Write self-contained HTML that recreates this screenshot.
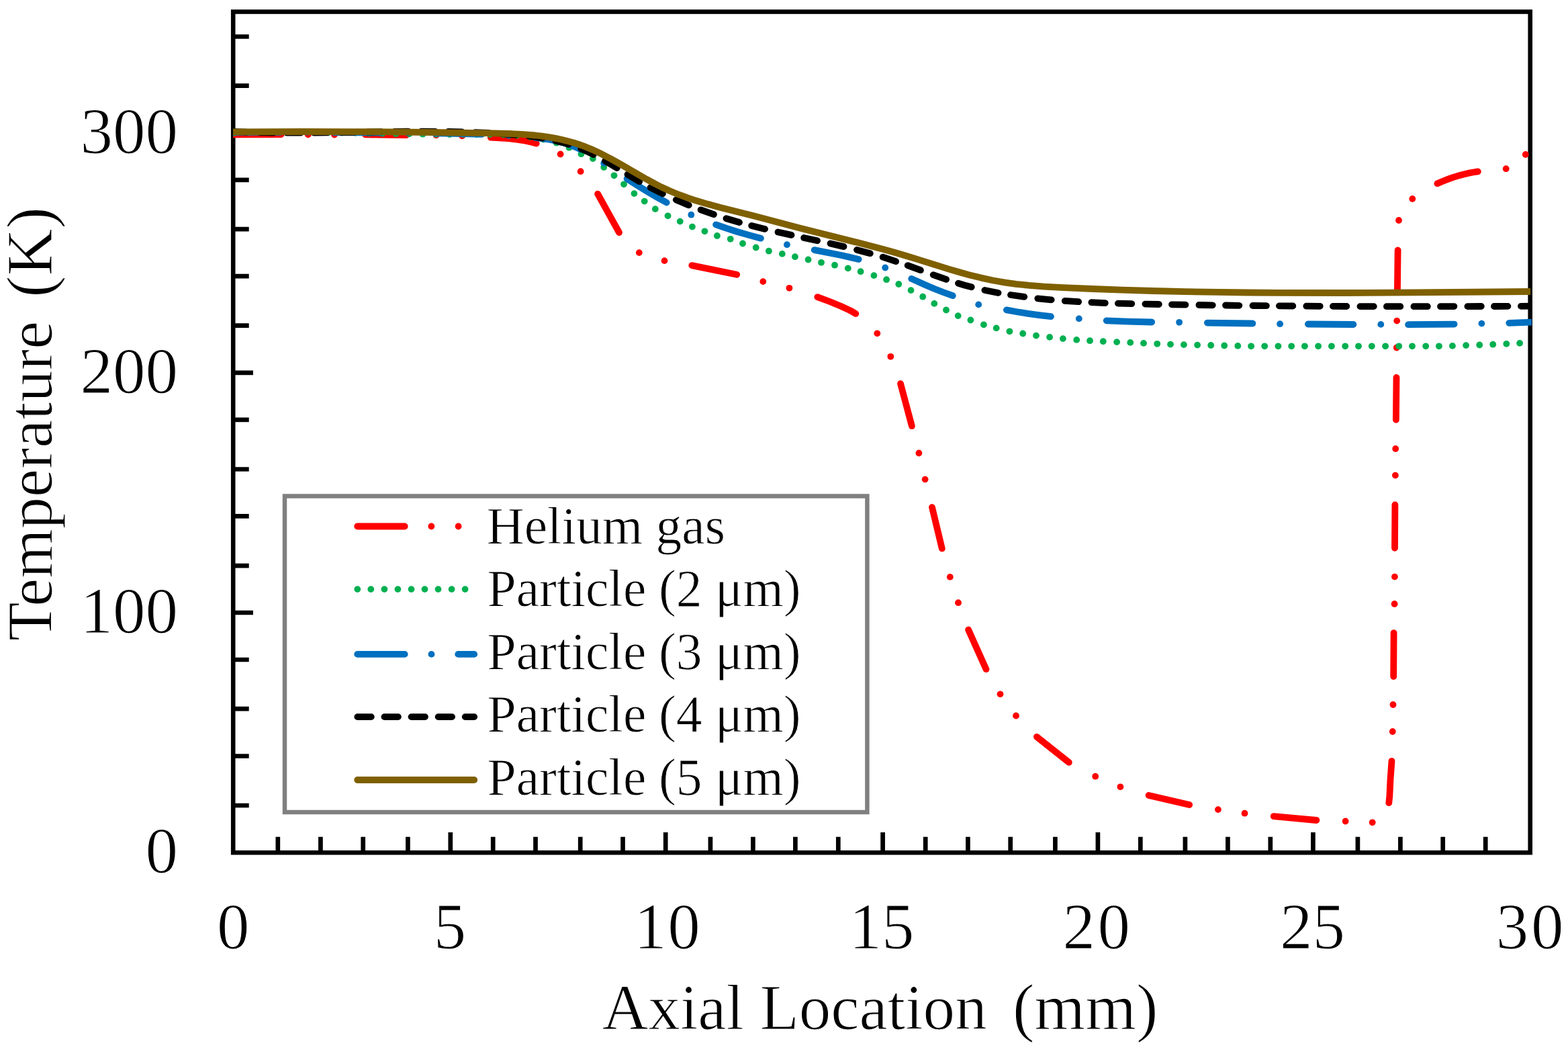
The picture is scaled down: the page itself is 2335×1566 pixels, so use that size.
<!DOCTYPE html>
<html><head><meta charset="utf-8"><title>Temperature vs Axial Location</title><style>html,body{margin:0;padding:0;background:#fff;overflow:hidden}svg{display:block}</style></head>
<body>
<svg width="2335" height="1566" viewBox="0 0 2335 1566">
<rect width="2335" height="1566" fill="#fff"/>
<defs><clipPath id="pc"><rect x="347" y="17.5" width="1934" height="1251.7"/></clipPath></defs>
<path d="M347.2,54.5h23.5M347.2,127.7h23.5M347.2,197.8h29.7M347.2,267.9h23.5M347.2,341.2h23.5M347.2,411.2h23.5M347.2,484.7h23.5M347.2,554.8h29.7M347.2,624.9h23.5M347.2,698.5h23.5M347.2,768.4h23.5M347.2,842.1h23.5M347.2,912h29.7M347.2,982h23.5M347.2,1055.2h23.5M347.2,1125.5h23.5M347.2,1199h23.5M413.8,1269.2v-23.4M477.4,1269.2v-23.4M540.7,1269.2v-23.4M607.4,1269.2v-23.4M670.8,1269.2v-30.2M734.2,1269.2v-23.4M797.5,1269.2v-23.4M864.2,1269.2v-23.4M927.5,1269.2v-23.4M991.2,1269.2v-30.2M1057.9,1269.2v-23.4M1121.4,1269.2v-23.4M1184.4,1269.2v-23.4M1248.3,1269.2v-23.4M1314.6,1269.2v-30.2M1378.2,1269.2v-23.4M1441.4,1269.2v-23.4M1504.7,1269.2v-23.4M1571.4,1269.2v-23.4M1634.9,1269.2v-30.2M1698.3,1269.2v-23.4M1764.9,1269.2v-23.4M1828.4,1269.2v-23.4M1891.8,1269.2v-23.4M1955.4,1269.2v-30.2M2021.9,1269.2v-23.4M2085.4,1269.2v-23.4M2148.7,1269.2v-23.4M2212.2,1269.2v-23.4" stroke="#000" stroke-width="6.7" fill="none"/>
<rect x="347.2" y="17.5" width="1931.5" height="1251.7" fill="none" stroke="#000" stroke-width="6.6"/>
<g clip-path="url(#pc)">
<path d="M346.9,200.3L418.7,200.0M544.0,200.4L604.9,201.2M730.8,204.7L752.8,205.9L761.7,206.7L769.7,207.6L777.7,208.8L785.1,210.2L792.1,211.8L798.7,213.6M890.1,288.6L922.0,346.1M1030.3,395.1L1097.2,408.8M1217.3,442.1L1235.8,449.0L1253.3,456.2L1264.8,461.6L1269.7,464.2L1274.3,466.9M1341.0,571.1L1357.9,634.2M1388.0,755.1L1402.8,816.6M1442.1,937.4L1468.5,996.2M1543.9,1096.8L1591.8,1134.9M1710.6,1184.0L1771.2,1198.0M1896.7,1215.1L1960.4,1221.0M2068.3,1195.2L2069.3,1185.5L2070.5,1160.5L2072.5,1132.8M2075.2,1007.1L2075.6,942.1M2077.0,815.8L2077.4,751.5M2078.9,624.9L2079.5,561.9M2080.9,433.7L2081.6,372.5M2140.4,273.3L2148.0,270.0L2155.9,266.9L2163.4,264.2L2171.0,261.8L2178.7,259.7L2186.0,257.9L2193.5,256.5L2200.9,255.4" fill="none" stroke="#FF0000" stroke-width="9.8" stroke-linecap="round" stroke-linejoin="round"/>
<circle cx="458.8" cy="200.4" r="4.90" fill="#FF0000"/><circle cx="498.0" cy="200.6" r="4.90" fill="#FF0000"/><circle cx="649.6" cy="201.2" r="4.90" fill="#FF0000"/><circle cx="688.2" cy="202.4" r="4.90" fill="#FF0000"/><circle cx="834.6" cy="229.5" r="4.90" fill="#FF0000"/><circle cx="864.6" cy="255.2" r="4.90" fill="#FF0000"/><circle cx="951.8" cy="376.1" r="4.90" fill="#FF0000"/><circle cx="989.5" cy="388.1" r="4.90" fill="#FF0000"/><circle cx="1136.3" cy="419.1" r="4.90" fill="#FF0000"/><circle cx="1175.4" cy="428.8" r="4.90" fill="#FF0000"/><circle cx="1306.3" cy="496.3" r="4.90" fill="#FF0000"/><circle cx="1326.3" cy="530.8" r="4.90" fill="#FF0000"/><circle cx="1368.4" cy="674.5" r="4.90" fill="#FF0000"/><circle cx="1377.6" cy="713.6" r="4.90" fill="#FF0000"/><circle cx="1414.8" cy="858.9" r="4.90" fill="#FF0000"/><circle cx="1427.0" cy="897.2" r="4.90" fill="#FF0000"/><circle cx="1489.5" cy="1033.3" r="4.90" fill="#FF0000"/><circle cx="1513.0" cy="1065.5" r="4.90" fill="#FF0000"/><circle cx="1631.2" cy="1155.7" r="4.90" fill="#FF0000"/><circle cx="1668.4" cy="1171.3" r="4.90" fill="#FF0000"/><circle cx="1813.9" cy="1205.1" r="4.90" fill="#FF0000"/><circle cx="1853.5" cy="1210.7" r="4.90" fill="#FF0000"/><circle cx="2003.6" cy="1222.5" r="4.90" fill="#FF0000"/><circle cx="2043.7" cy="1224.3" r="4.90" fill="#FF0000"/><circle cx="2073.8" cy="1089.0" r="4.90" fill="#FF0000"/><circle cx="2074.5" cy="1049.0" r="4.90" fill="#FF0000"/><circle cx="2076.6" cy="899.0" r="4.90" fill="#FF0000"/><circle cx="2076.9" cy="858.6" r="4.90" fill="#FF0000"/><circle cx="2077.9" cy="707.6" r="4.90" fill="#FF0000"/><circle cx="2078.2" cy="668.0" r="4.90" fill="#FF0000"/><circle cx="2079.8" cy="517.5" r="4.90" fill="#FF0000"/><circle cx="2080.2" cy="477.6" r="4.90" fill="#FF0000"/><circle cx="2083.0" cy="328.0" r="4.90" fill="#FF0000"/><circle cx="2103.3" cy="296.0" r="4.90" fill="#FF0000"/><circle cx="2242.7" cy="251.2" r="4.90" fill="#FF0000"/><circle cx="2271.8" cy="230.0" r="4.90" fill="#FF0000"/>
<circle cx="865.5" cy="229.2" r="4.90" fill="#00B050"/><circle cx="882.9" cy="236.1" r="4.90" fill="#00B050"/><circle cx="899.2" cy="249.0" r="4.90" fill="#00B050"/><circle cx="914.5" cy="261.3" r="4.90" fill="#00B050"/><circle cx="929.0" cy="274.3" r="4.90" fill="#00B050"/><circle cx="944.4" cy="288.1" r="4.90" fill="#00B050"/><circle cx="959.7" cy="299.6" r="4.90" fill="#00B050"/><circle cx="975.8" cy="311.1" r="4.90" fill="#00B050"/><circle cx="994.5" cy="321.3" r="4.90" fill="#00B050"/><circle cx="1012.7" cy="329.6" r="4.90" fill="#00B050"/><circle cx="1030.9" cy="337.6" r="4.90" fill="#00B050"/><circle cx="1049.4" cy="344.3" r="4.90" fill="#00B050"/><circle cx="1067.9" cy="351.0" r="4.90" fill="#00B050"/><circle cx="1087.7" cy="355.8" r="4.90" fill="#00B050"/><circle cx="1106.0" cy="362.5" r="4.90" fill="#00B050"/><circle cx="1125.7" cy="368.5" r="4.90" fill="#00B050"/><circle cx="1144.9" cy="373.7" r="4.90" fill="#00B050"/><circle cx="1164.8" cy="377.9" r="4.90" fill="#00B050"/><circle cx="1183.9" cy="382.2" r="4.90" fill="#00B050"/><circle cx="1203.6" cy="386.5" r="4.90" fill="#00B050"/><circle cx="1223.0" cy="390.8" r="4.90" fill="#00B050"/><circle cx="1243.0" cy="394.7" r="4.90" fill="#00B050"/><circle cx="1262.8" cy="399.4" r="4.90" fill="#00B050"/><circle cx="1281.6" cy="404.2" r="4.90" fill="#00B050"/><circle cx="1301.4" cy="410.1" r="4.90" fill="#00B050"/><circle cx="1320.1" cy="416.2" r="4.90" fill="#00B050"/><circle cx="1338.3" cy="423.0" r="4.90" fill="#00B050"/><circle cx="1356.5" cy="432.1" r="4.90" fill="#00B050"/><circle cx="1374.2" cy="441.7" r="4.90" fill="#00B050"/><circle cx="1391.3" cy="451.9" r="4.90" fill="#00B050"/><circle cx="1409.0" cy="461.5" r="4.90" fill="#00B050"/><circle cx="1426.7" cy="470.1" r="4.90" fill="#00B050"/><circle cx="1445.4" cy="476.5" r="4.90" fill="#00B050"/><circle cx="1464.9" cy="483.3" r="4.90" fill="#00B050"/><circle cx="1483.7" cy="488.4" r="4.90" fill="#00B050"/><circle cx="1503.4" cy="493.3" r="4.90" fill="#00B050"/><circle cx="1523.2" cy="496.5" r="4.90" fill="#00B050"/><circle cx="1543.0" cy="499.6" r="4.90" fill="#00B050"/><circle cx="1563.1" cy="501.9" r="4.90" fill="#00B050"/><circle cx="1582.9" cy="504.1" r="4.90" fill="#00B050"/><circle cx="1603.2" cy="505.9" r="4.90" fill="#00B050"/><circle cx="1623.0" cy="507.2" r="4.90" fill="#00B050"/><circle cx="1642.8" cy="508.2" r="4.90" fill="#00B050"/><circle cx="1663.1" cy="509.1" r="4.90" fill="#00B050"/><circle cx="1683.2" cy="509.9" r="4.90" fill="#00B050"/><circle cx="1703.0" cy="510.9" r="4.90" fill="#00B050"/><circle cx="1723.2" cy="511.8" r="4.90" fill="#00B050"/><circle cx="1743.0" cy="512.6" r="4.90" fill="#00B050"/><circle cx="1762.9" cy="513.1" r="4.90" fill="#00B050"/><circle cx="1783.1" cy="513.6" r="4.90" fill="#00B050"/><circle cx="1803.2" cy="514.0" r="4.90" fill="#00B050"/><circle cx="1823.2" cy="514.5" r="4.90" fill="#00B050"/><circle cx="1843.3" cy="514.9" r="4.90" fill="#00B050"/><circle cx="1863.1" cy="515.3" r="4.90" fill="#00B050"/><circle cx="1883.2" cy="515.3" r="4.90" fill="#00B050"/><circle cx="1903.4" cy="515.3" r="4.90" fill="#00B050"/><circle cx="1923.2" cy="515.3" r="4.90" fill="#00B050"/><circle cx="1942.9" cy="515.3" r="4.90" fill="#00B050"/><circle cx="1963.1" cy="515.3" r="4.90" fill="#00B050"/><circle cx="1982.9" cy="515.3" r="4.90" fill="#00B050"/><circle cx="2003.2" cy="515.3" r="4.90" fill="#00B050"/><circle cx="2023.0" cy="515.3" r="4.90" fill="#00B050"/><circle cx="2042.8" cy="515.3" r="4.90" fill="#00B050"/><circle cx="2063.1" cy="515.3" r="4.90" fill="#00B050"/><circle cx="2083.2" cy="515.3" r="4.90" fill="#00B050"/><circle cx="2103.0" cy="515.3" r="4.90" fill="#00B050"/><circle cx="2123.2" cy="515.3" r="4.90" fill="#00B050"/><circle cx="2142.9" cy="515.3" r="4.90" fill="#00B050"/><circle cx="2162.9" cy="514.9" r="4.90" fill="#00B050"/><circle cx="2183.1" cy="514.1" r="4.90" fill="#00B050"/><circle cx="2203.2" cy="513.5" r="4.90" fill="#00B050"/><circle cx="2223.2" cy="512.7" r="4.90" fill="#00B050"/><circle cx="2243.3" cy="511.8" r="4.90" fill="#00B050"/><circle cx="2263.1" cy="510.9" r="4.90" fill="#00B050"/><circle cx="847.5" cy="219.7" r="4.90" fill="#00B050"/><circle cx="828.7" cy="212.7" r="4.90" fill="#00B050"/><circle cx="809.3" cy="207.5" r="4.90" fill="#00B050"/><circle cx="789.6" cy="203.9" r="4.90" fill="#00B050"/><circle cx="769.7" cy="201.6" r="4.90" fill="#00B050"/><circle cx="749.7" cy="200.5" r="4.90" fill="#00B050"/><circle cx="729.7" cy="200.1" r="4.90" fill="#00B050"/><circle cx="709.7" cy="200.1" r="4.90" fill="#00B050"/><circle cx="689.6" cy="200.1" r="4.90" fill="#00B050"/><circle cx="669.6" cy="200.0" r="4.90" fill="#00B050"/><circle cx="649.5" cy="199.9" r="4.90" fill="#00B050"/><circle cx="629.5" cy="199.7" r="4.90" fill="#00B050"/><circle cx="609.5" cy="199.4" r="4.90" fill="#00B050"/><circle cx="589.4" cy="199.0" r="4.90" fill="#00B050"/><circle cx="569.4" cy="198.7" r="4.90" fill="#00B050"/><circle cx="549.3" cy="198.3" r="4.90" fill="#00B050"/><circle cx="529.3" cy="197.9" r="4.90" fill="#00B050"/><circle cx="509.3" cy="197.6" r="4.90" fill="#00B050"/><circle cx="489.2" cy="197.3" r="4.90" fill="#00B050"/><circle cx="469.2" cy="197.1" r="4.90" fill="#00B050"/><circle cx="449.2" cy="196.9" r="4.90" fill="#00B050"/><circle cx="429.1" cy="196.8" r="4.90" fill="#00B050"/><circle cx="409.1" cy="196.9" r="4.90" fill="#00B050"/><circle cx="389.0" cy="197.0" r="4.90" fill="#00B050"/><circle cx="369.0" cy="197.3" r="4.90" fill="#00B050"/><circle cx="349.0" cy="197.8" r="4.90" fill="#00B050"/>
<path d="M933.6,266.1L950.5,276.8L965.5,286.0L979.5,294.2L992.7,301.5M1066.1,334.3L1082.0,339.9L1098.0,345.0L1115.0,349.9L1132.9,354.7M1212.7,372.1L1251.5,379.8L1265.5,382.9L1278.6,386.1M1357.3,414.9L1377.0,423.8L1390.5,429.5L1404.5,435.0L1418.8,440.2M1498.9,461.4L1514.5,464.2L1531.0,466.8L1547.5,469.1L1565.0,471.2M1647.7,477.3L1679.5,478.6L1715.2,479.5M1797.9,480.6L1865.4,481.5M1947.9,482.5L2015.4,483.0M2097.1,483.2L2165.6,482.6M2247.3,480.8L2280.0,479.7M797.3,204.9L808.5,206.3L818.0,207.7L827.0,209.4L835.0,211.4L843.0,213.7L850.5,216.3L858.0,219.4L865.1,222.7M647.3,198.3L687.5,199.0L717.8,199.8M497.1,197.0L567.6,197.5M347.0,196.9L417.4,196.8" fill="none" stroke="#0070C0" stroke-width="9.8" stroke-linecap="round" stroke-linejoin="round"/>
<circle cx="899.2" cy="242.9" r="4.90" fill="#0070C0"/><circle cx="1029.3" cy="319.7" r="4.90" fill="#0070C0"/><circle cx="1171.9" cy="364.2" r="4.90" fill="#0070C0"/><circle cx="1318.2" cy="398.5" r="4.90" fill="#0070C0"/><circle cx="1457.2" cy="453.4" r="4.90" fill="#0070C0"/><circle cx="1606.8" cy="474.4" r="4.90" fill="#0070C0"/><circle cx="1756.1" cy="479.8" r="4.90" fill="#0070C0"/><circle cx="1906.1" cy="482.2" r="4.90" fill="#0070C0"/><circle cx="2056.3" cy="482.9" r="4.90" fill="#0070C0"/><circle cx="2206.4" cy="481.6" r="4.90" fill="#0070C0"/><circle cx="757.7" cy="201.7" r="4.90" fill="#0070C0"/><circle cx="607.6" cy="197.8" r="4.90" fill="#0070C0"/><circle cx="457.4" cy="196.8" r="4.90" fill="#0070C0"/>
<path d="M347.0,195.8L367.3,196.6M386.9,197.2L407.4,197.5M427.0,197.7L447.5,197.7M467.1,197.6L487.6,197.4M507.2,197.1L527.7,196.8M547.3,196.5L567.8,196.2M587.4,195.9L607.9,195.7M627.5,195.7L648.0,195.8M667.6,196.0L688.1,196.4M707.6,197.1L728.1,198.0M747.7,199.2L768.1,200.8M787.6,202.7L798.0,204.0L807.9,205.6M827.2,209.4L837.0,211.9L846.9,214.8M865.3,221.5L874.5,225.5L883.9,230.1M901.1,239.6L918.7,250.1M934.5,259.8L952.2,270.2M968.6,279.1L986.9,288.3M1006.8,297.5L1025.7,305.4M1043.6,312.3L1062.9,319.2M1081.4,325.2L1101.0,331.0M1119.2,335.9L1139.1,340.9M1158.5,345.5L1178.5,349.9M1197.1,354.0L1217.1,358.3M1236.5,362.5L1256.5,367.1M1276.0,371.9L1295.8,377.2M1314.6,382.7L1334.1,389.1M1351.7,395.2L1370.9,402.2M1389.7,409.1L1409.1,415.9M1427.0,421.7L1437.0,424.7L1446.7,427.3M1466.4,432.0L1486.5,436.0M1505.0,439.0L1525.3,441.9M1545.3,444.3L1565.7,446.3M1585.8,447.9L1606.2,449.2M1625.4,450.2L1645.8,451.1M1664.9,451.7L1685.3,452.2M1705.4,452.6L1725.8,453.0M1745.0,453.3L1765.4,453.7M1785.4,454.0L1805.8,454.3M1825.0,454.5L1845.4,454.8M1865.5,455.0L1885.9,455.2M1904.9,455.4L1925.3,455.5M1945.3,455.7L1965.7,455.8M1984.9,455.9L2005.3,456.0M2025.4,456.1L2045.8,456.1M2064.9,456.2L2085.3,456.2M2105.4,456.2L2125.8,456.2M2145.0,456.2L2165.4,456.1M2185.4,456.1L2205.8,456.0M2225.0,456.0L2245.4,455.9M2265.0,455.8L2280.0,455.7" fill="none" stroke="#000" stroke-width="9.8" stroke-linecap="round" stroke-linejoin="round"/>
<path d="M347.0,196.4L451.0,196.0L549.0,196.2L643.0,197.0L735.0,198.4L765.0,199.3L777.0,199.9L787.0,200.6L797.0,201.5L807.0,202.7L817.0,204.1L827.0,205.9L835.0,207.5L843.0,209.4L857.0,213.3L865.0,216.0L871.0,218.2L883.0,223.1L895.0,228.8L909.0,236.1L923.0,243.9L963.0,266.9L975.0,273.4L985.0,278.5L997.0,284.0L1009.0,289.0L1023.0,294.2L1037.0,298.8L1053.0,303.6L1073.0,309.0L1123.0,321.6L1191.0,339.5L1277.0,361.1L1315.0,371.0L1333.0,376.0L1349.0,380.7L1365.0,385.6L1413.0,400.6L1429.0,405.3L1443.0,409.2L1461.0,413.6L1479.0,417.5L1497.0,420.6L1513.0,422.9L1533.0,424.9L1555.0,426.6L1583.0,428.1L1627.0,430.0L1671.0,431.6L1717.0,433.0L1765.0,434.1L1813.0,434.9L1857.0,435.5L1903.0,435.8L2003.0,436.0L2111.0,435.4L2279.0,434.0" fill="none" stroke="#7F6000" stroke-width="9.8" stroke-linecap="butt" stroke-linejoin="round"/>
</g>
<rect x="424" y="738.5" width="867.4" height="470.5" fill="#fff" stroke="#808080" stroke-width="6.5"/>
<path d="M532.2,783.5H602.7" stroke="#FF0000" stroke-width="9.8" stroke-linecap="round"/>
<circle cx="642.4" cy="783.5" r="4.9" fill="#FF0000"/><circle cx="682.6" cy="783.5" r="4.9" fill="#FF0000"/>
<circle cx="532.3" cy="877.1" r="4.9" fill="#00B050"/><circle cx="552.3" cy="877.1" r="4.9" fill="#00B050"/><circle cx="572.4" cy="877.1" r="4.9" fill="#00B050"/><circle cx="592.4" cy="877.1" r="4.9" fill="#00B050"/><circle cx="612.5" cy="877.1" r="4.9" fill="#00B050"/><circle cx="632.5" cy="877.1" r="4.9" fill="#00B050"/><circle cx="652.5" cy="877.1" r="4.9" fill="#00B050"/><circle cx="672.6" cy="877.1" r="4.9" fill="#00B050"/><circle cx="692.6" cy="877.1" r="4.9" fill="#00B050"/>
<path d="M532.2,973.9H602.7M682.2,973.9H706.2" stroke="#0070C0" stroke-width="9.8" stroke-linecap="round"/>
<circle cx="642.5" cy="973.9" r="4.9" fill="#0070C0"/>
<path d="M532.3,1067.1h20.5M572.4,1067.1h20.5M612.5,1067.1h20.5M652.6,1067.1h20.5M692.7,1067.1H706.2" stroke="#000" stroke-width="9.8" stroke-linecap="round"/>
<path d="M532.2,1161H706.2" stroke="#7F6000" stroke-width="9.8" stroke-linecap="round"/>
<text x="724.7" y="808.6" font-size="77.5" font-family="'Liberation Serif','Times New Roman',serif" stroke="#fff" stroke-width="0.9">Helium gas</text>
<text y="902.1" font-size="77.5" font-family="'Liberation Serif','Times New Roman',serif" stroke="#fff" stroke-width="0.9"><tspan x="725.6">Particle</tspan><tspan x="981.0">(2</tspan><tspan x="1065.0">μm)</tspan></text>
<text y="995.8" font-size="77.5" font-family="'Liberation Serif','Times New Roman',serif" stroke="#fff" stroke-width="0.9"><tspan x="725.6">Particle</tspan><tspan x="981.0">(3</tspan><tspan x="1065.0">μm)</tspan></text>
<text y="1088.9" font-size="77.5" font-family="'Liberation Serif','Times New Roman',serif" stroke="#fff" stroke-width="0.9"><tspan x="725.6">Particle</tspan><tspan x="981.0">(4</tspan><tspan x="1065.0">μm)</tspan></text>
<text y="1182.9" font-size="77.5" font-family="'Liberation Serif','Times New Roman',serif" stroke="#fff" stroke-width="0.9"><tspan x="725.6">Particle</tspan><tspan x="981.0">(5</tspan><tspan x="1065.0">μm)</tspan></text>
<text x="265.0" y="227.6" text-anchor="end" font-size="97" font-family="'Liberation Serif','Times New Roman',serif" stroke="#fff" stroke-width="1.2">300</text>
<text x="265.0" y="584.5" text-anchor="end" font-size="97" font-family="'Liberation Serif','Times New Roman',serif" stroke="#fff" stroke-width="1.2">200</text>
<text x="265.0" y="941.5" text-anchor="end" font-size="97" font-family="'Liberation Serif','Times New Roman',serif" stroke="#fff" stroke-width="1.2">100</text>
<text x="265.0" y="1298.7" text-anchor="end" font-size="97" font-family="'Liberation Serif','Times New Roman',serif" stroke="#fff" stroke-width="1.2">0</text>
<text x="347.3" y="1412.0" text-anchor="middle" font-size="97" font-family="'Liberation Serif','Times New Roman',serif" stroke="#fff" stroke-width="1.2">0</text>
<text x="670.0" y="1412.0" text-anchor="middle" font-size="97" font-family="'Liberation Serif','Times New Roman',serif" stroke="#fff" stroke-width="1.2">5</text>
<text x="994.2" y="1412.0" text-anchor="middle" font-size="97" letter-spacing="1.5" font-family="'Liberation Serif','Times New Roman',serif" stroke="#fff" stroke-width="1.2">10</text>
<text x="1313.1" y="1412.0" text-anchor="middle" font-size="97" font-family="'Liberation Serif','Times New Roman',serif" stroke="#fff" stroke-width="1.2">15</text>
<text x="1634.5" y="1412.0" text-anchor="middle" font-size="97" letter-spacing="3.5" font-family="'Liberation Serif','Times New Roman',serif" stroke="#fff" stroke-width="1.2">20</text>
<text x="1954.5" y="1412.0" text-anchor="middle" font-size="97" font-family="'Liberation Serif','Times New Roman',serif" stroke="#fff" stroke-width="1.2">25</text>
<text x="2279.9" y="1412.0" text-anchor="middle" font-size="97" letter-spacing="3.6" font-family="'Liberation Serif','Times New Roman',serif" stroke="#fff" stroke-width="1.2">30</text>
<text y="1532.0" font-family="'Liberation Serif','Times New Roman',serif" stroke="#fff" stroke-width="1.2"><tspan x="896.7" font-size="95.1">Axial Location</tspan><tspan x="1507.9" font-size="97.5">(mm)</tspan></text>
<text transform="translate(76.7,0) rotate(-90)" y="0" font-family="'Liberation Serif','Times New Roman',serif" stroke="#fff" stroke-width="1.2"><tspan x="-953.9" font-size="94.5">Temperature</tspan><tspan x="-442.8" font-size="97">(K)</tspan></text>
</svg>
</body></html>
